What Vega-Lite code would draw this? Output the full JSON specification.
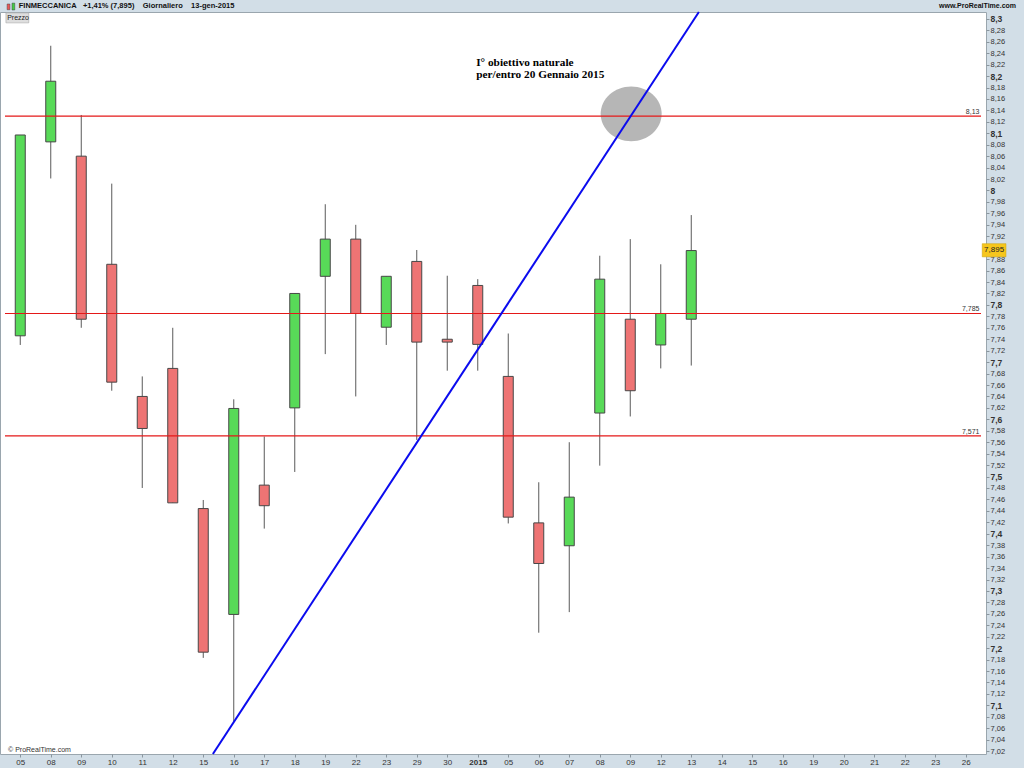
{
  "$schema": "https://vega.github.io/schema/vega-lite/v6.json",
  "width": 986,
  "height": 742,
  "autosize": "none",
  "padding": {"left": 0, "top": 12, "right": 38, "bottom": 14},
  "background": "#d2dee7",
  "config": {
    "view": {"fill": "#ffffff", "stroke": "#9aa6ae", "strokeWidth": 1},
    "font": "Liberation Sans"
  },
  "datasets": {
    "candles": [
      {"i": 0, "d": "2014-12-05", "o": 7.746, "h": 8.097, "l": 7.730, "c": 8.097},
      {"i": 1, "d": "2014-12-08", "o": 8.085, "h": 8.253, "l": 8.021, "c": 8.191},
      {"i": 2, "d": "2014-12-09", "o": 8.060, "h": 8.132, "l": 7.760, "c": 7.775},
      {"i": 3, "d": "2014-12-10", "o": 7.871, "h": 8.012, "l": 7.650, "c": 7.665},
      {"i": 4, "d": "2014-12-11", "o": 7.640, "h": 7.675, "l": 7.480, "c": 7.584},
      {"i": 5, "d": "2014-12-12", "o": 7.689, "h": 7.760, "l": 7.454, "c": 7.454},
      {"i": 6, "d": "2014-12-15", "o": 7.444, "h": 7.459, "l": 7.183, "c": 7.193},
      {"i": 7, "d": "2014-12-16", "o": 7.259, "h": 7.635, "l": 7.071, "c": 7.619},
      {"i": 8, "d": "2014-12-17", "o": 7.485, "h": 7.570, "l": 7.409, "c": 7.449},
      {"i": 9, "d": "2014-12-18", "o": 7.620, "h": 7.820, "l": 7.508, "c": 7.820},
      {"i": 10, "d": "2014-12-19", "o": 7.850, "h": 7.976, "l": 7.714, "c": 7.915},
      {"i": 11, "d": "2014-12-22", "o": 7.915, "h": 7.940, "l": 7.640, "c": 7.785},
      {"i": 12, "d": "2014-12-23", "o": 7.761, "h": 7.850, "l": 7.730, "c": 7.850},
      {"i": 13, "d": "2014-12-29", "o": 7.876, "h": 7.896, "l": 7.564, "c": 7.735},
      {"i": 14, "d": "2014-12-30", "o": 7.740, "h": 7.851, "l": 7.685, "c": 7.735},
      {"i": 15, "d": "2015-01-02", "o": 7.834, "h": 7.845, "l": 7.685, "c": 7.731},
      {"i": 16, "d": "2015-01-05", "o": 7.675, "h": 7.750, "l": 7.418, "c": 7.429},
      {"i": 17, "d": "2015-01-06", "o": 7.419, "h": 7.490, "l": 7.227, "c": 7.348},
      {"i": 18, "d": "2015-01-07", "o": 7.379, "h": 7.560, "l": 7.263, "c": 7.464},
      {"i": 19, "d": "2015-01-08", "o": 7.611, "h": 7.886, "l": 7.519, "c": 7.845},
      {"i": 20, "d": "2015-01-09", "o": 7.775, "h": 7.915, "l": 7.605, "c": 7.650},
      {"i": 21, "d": "2015-01-12", "o": 7.730, "h": 7.871, "l": 7.689, "c": 7.785},
      {"i": 22, "d": "2015-01-13", "o": 7.775, "h": 7.957, "l": 7.694, "c": 7.895}
    ],
    "levels": [
      {"level": 8.13, "label": "8,13"},
      {"level": 7.785, "label": "7,785"},
      {"level": 7.571, "label": "7,571"}
    ],
    "trend": [
      {"i": 6.316, "p": 7.015},
      {"i": 22.25, "p": 8.312}
    ],
    "target": [
      {"i": 20.03, "p": 8.134}
    ],
    "note": [
      {"i": 14.95, "p": 8.218, "t": "I° obiettivo naturale\nper/entro 20 Gennaio 2015"}
    ]
  },
  "layer": [
    {
      "data": {"name": "target"},
      "mark": {"type": "point", "shape": "M -1 0 A 1 0.9 0 1 0 1 0 A 1 0.9 0 1 0 -1 0 Z", "filled": true, "color": "#b6b6b6", "opacity": 1, "size": 3721},
      "encoding": {
        "x": {
          "field": "i", "type": "quantitative", "title": null,
          "scale": {"domain": [-0.5, 31.5], "nice": false, "zero": false},
          "axis": {
            "title": null,
            "orient": "bottom",
            "tickCount": 200,
            "values": [0,1,2,3,4,5,6,7,8,9,10,11,12,13,14,15,16,17,18,19,20,21,22,23,24,25,26,27,28,29,30,31],
            "labelExpr": "['05','08','09','10','11','12','15','16','17','18','19','22','23','29','30','2015','05','06','07','08','09','12','13','14','15','16','19','20','21','22','23','26'][datum.value]",
            "labelFontWeight": {"condition": {"test": "datum.value == 15", "value": "bold"}, "value": "normal"},
            "labelFontSize": 8,
            "labelColor": "#333333",
            "labelPadding": 1,
            "labelOverlap": false,
            "labelFlush": false,
            "labelBound": false,
            "tickSize": 3,
            "tickColor": "#8a969e",
            "domain": false,
            "grid": false
          }
        },
        "y": {
          "field": "p", "type": "quantitative", "title": null,
          "scale": {"domain": [7.015, 8.312], "nice": false, "zero": false},
          "axis": {
            "title": null,
            "orient": "right",
            "tickCount": 200,
            "values": [7.02,7.04,7.06,7.08,7.1,7.12,7.14,7.16,7.18,7.2,7.22,7.24,7.26,7.28,7.3,7.32,7.34,7.36,7.38,7.4,7.42,7.44,7.46,7.48,7.5,7.52,7.54,7.56,7.58,7.6,7.62,7.64,7.66,7.68,7.7,7.72,7.74,7.76,7.78,7.8,7.82,7.84,7.86,7.88,7.92,7.94,7.96,7.98,8,8.02,8.04,8.06,8.08,8.1,8.12,8.14,8.16,8.18,8.2,8.22,8.24,8.26,8.28,8.3],
            "labelExpr": "replace(format(datum.value, '.2~f'), '.', ',')",
            "labelFontWeight": {"condition": {"test": "abs(datum.value*10 - round(datum.value*10)) < 0.001", "value": "bold"}, "value": "normal"},
            "labelFontSize": {"condition": {"test": "abs(datum.value*10 - round(datum.value*10)) < 0.001", "value": 8.5}, "value": 7.5},
            "labelColor": "#333333",
            "labelPadding": 1,
            "labelOverlap": false,
            "labelFlush": false,
            "labelBound": false,
            "tickSize": 3,
            "tickColor": "#8a969e",
            "domain": false,
            "grid": false
          }
        }
      }
    },
    {
      "data": {"name": "candles"},
      "mark": {"type": "rule", "color": "#5a5a5a", "strokeWidth": 1},
      "encoding": {
        "x": {"field": "i", "type": "quantitative", "title": null},
        "y": {"field": "l", "type": "quantitative", "title": null},
        "y2": {"field": "h"}
      }
    },
    {
      "data": {"name": "candles"},
      "mark": {"type": "bar", "stroke": "#474747", "strokeWidth": 1},
      "encoding": {
        "x": {"field": "i", "type": "quantitative", "title": null},
        "y": {"field": "o", "type": "quantitative", "title": null},
        "y2": {"field": "c"},
        "size": {"value": 10},
        "fill": {"condition": {"test": "datum.c >= datum.o", "value": "#58da58"}, "value": "#ee7474"}
      }
    },
    {
      "data": {"name": "levels"},
      "mark": {"type": "text", "align": "right", "baseline": "bottom", "dy": -1, "fontSize": 7, "color": "#333333", "clip": false},
      "encoding": {
        "x": {"datum": 31.45, "type": "quantitative", "title": null},
        "y": {"field": "level", "type": "quantitative", "title": null},
        "text": {"field": "label"}
      }
    },
    {
      "data": {"name": "levels"},
      "mark": {"type": "rule", "strokeWidth": 1.2},
      "encoding": {
        "x": {"datum": -0.5, "type": "quantitative", "title": null},
        "x2": {"datum": 31.5},
        "y": {"field": "level", "type": "quantitative", "title": null},
        "stroke": {"value": "#e41818"}
      }
    },
    {
      "data": {"name": "trend"},
      "mark": {"type": "line", "color": "#0b0bee", "strokeWidth": 2},
      "encoding": {
        "x": {"field": "i", "type": "quantitative", "title": null},
        "y": {"field": "p", "type": "quantitative", "title": null}
      }
    },
    {
      "data": {"name": "note"},
      "mark": {"type": "text", "align": "left", "baseline": "alphabetic", "font": "Liberation Serif", "fontWeight": "bold", "fontSize": 11.3, "lineHeight": 12, "lineBreak": "\n", "color": "#000000"},
      "encoding": {
        "x": {"field": "i", "type": "quantitative", "title": null},
        "y": {"field": "p", "type": "quantitative", "title": null},
        "text": {"field": "t"}
      }
    },
    {
      "data": {"values": [{}]},
      "mark": {"type": "rect", "fill": "#f6c61c", "stroke": "#c9a010", "strokeWidth": 0.5, "clip": false},
      "encoding": {
        "x": {"datum": 31.54, "type": "quantitative", "title": null},
        "x2": {"datum": 32.32},
        "y": {"datum": 7.884, "type": "quantitative", "title": null},
        "y2": {"datum": 7.907}
      }
    },
    {
      "data": {"values": [{}]},
      "mark": {"type": "text", "align": "center", "baseline": "middle", "fontSize": 8, "color": "#222222", "clip": false, "text": "7,895"},
      "encoding": {
        "x": {"datum": 31.93, "type": "quantitative", "title": null},
        "y": {"datum": 7.8955, "type": "quantitative", "title": null}
      }
    },
    {
      "data": {"values": [{}]},
      "mark": {"type": "rect", "fill": "#dedede", "stroke": "#9a9a9a", "strokeWidth": 0.5},
      "encoding": {
        "x": {"datum": -0.47, "type": "quantitative", "title": null},
        "x2": {"datum": 0.28},
        "y": {"datum": 8.293, "type": "quantitative", "title": null},
        "y2": {"datum": 8.3105}
      }
    },
    {
      "data": {"values": [{}]},
      "mark": {"type": "text", "align": "left", "baseline": "middle", "fontSize": 7, "color": "#222222", "text": "Prezzo"},
      "encoding": {
        "x": {"datum": -0.43, "type": "quantitative", "title": null},
        "y": {"datum": 8.302, "type": "quantitative", "title": null}
      }
    },
    {
      "data": {"values": [{}]},
      "mark": {"type": "text", "align": "left", "baseline": "bottom", "dy": -1, "fontSize": 7, "color": "#333333", "text": "© ProRealTime.com"},
      "encoding": {
        "x": {"datum": -0.4, "type": "quantitative", "title": null},
        "y": {"datum": 7.015, "type": "quantitative", "title": null}
      }
    },
    {
      "data": {"values": [{}]},
      "mark": {"type": "rect", "fill": "#ee5555", "stroke": "#444444", "strokeWidth": 0.5, "clip": false},
      "encoding": {
        "x": {"datum": -0.43, "type": "quantitative", "title": null},
        "x2": {"datum": -0.34},
        "y": {"datum": 8.316, "type": "quantitative", "title": null},
        "y2": {"datum": 8.326}
      }
    },
    {
      "data": {"values": [{}]},
      "mark": {"type": "rect", "fill": "#44cc44", "stroke": "#444444", "strokeWidth": 0.5, "clip": false},
      "encoding": {
        "x": {"datum": -0.27, "type": "quantitative", "title": null},
        "x2": {"datum": -0.18},
        "y": {"datum": 8.3155, "type": "quantitative", "title": null},
        "y2": {"datum": 8.3275}
      }
    },
    {
      "data": {"values": [{}]},
      "mark": {"type": "text", "align": "left", "baseline": "middle", "dy": -6, "fontSize": 7.5, "fontWeight": "bold", "color": "#111111", "clip": false, "text": "FINMECCANICA\u00a0\u00a0\u00a0+1,41% (7,895)\u00a0\u00a0\u00a0\u00a0Giornaliero\u00a0\u00a0\u00a0\u00a013-gen-2015"},
      "encoding": {
        "x": {"datum": -0.05, "type": "quantitative", "title": null},
        "y": {"datum": 8.312, "type": "quantitative", "title": null}
      }
    },
    {
      "data": {"values": [{}]},
      "mark": {"type": "text", "align": "right", "baseline": "middle", "dy": -6, "fontSize": 7, "fontWeight": "bold", "color": "#111111", "clip": false, "text": "www.ProRealTime.com"},
      "encoding": {
        "x": {"datum": 32.65, "type": "quantitative", "title": null},
        "y": {"datum": 8.312, "type": "quantitative", "title": null}
      }
    }
  ]
}
